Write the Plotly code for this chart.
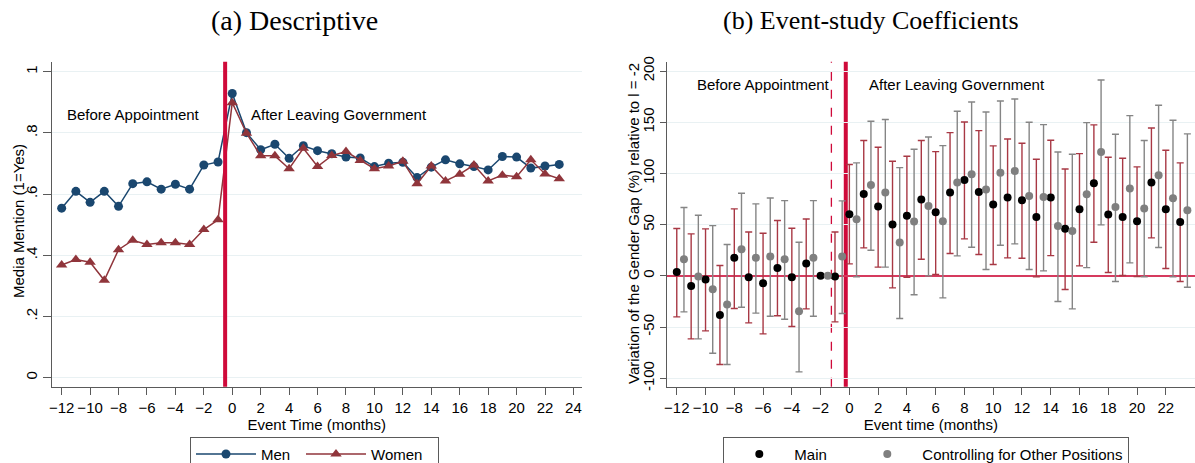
import plotly.graph_objects as go

# ---------------- data ----------------
event_time = [-12, -11, -10, -9, -8, -7, -6, -5, -4, -3, -2, -1,
              0, 1, 2, 3, 4, 5, 6, 7, 8, 9, 10, 11,
              12, 13, 14, 15, 16, 17, 18, 19, 20, 21, 22, 23]

men = [0.554, 0.609, 0.573, 0.609, 0.560, 0.634, 0.640, 0.616, 0.632, 0.616, 0.695, 0.705,
       0.929, 0.801, 0.745, 0.763, 0.717, 0.758, 0.742, 0.732, 0.721, 0.718, 0.690, 0.701,
       0.704, 0.654, 0.688, 0.712, 0.699, 0.690, 0.679, 0.723, 0.721, 0.685, 0.692, 0.697]

women = [0.368, 0.386, 0.377, 0.318, 0.418, 0.449, 0.435, 0.441, 0.441, 0.435, 0.484, 0.516,
         0.899, 0.799, 0.725, 0.725, 0.683, 0.750, 0.690, 0.726, 0.739, 0.710, 0.683, 0.692,
         0.707, 0.634, 0.692, 0.643, 0.665, 0.695, 0.643, 0.662, 0.657, 0.712, 0.666, 0.650]

main_coef = [3.9, -9.8, -3.6, -38.1, 17.6, -1.3, -7.2, 7.8, -1.3, 12.0, 0.0, -0.5,
             60.2, 80.0, 67.7, 50.1, 58.6, 74.5, 62.1, 81.3, 93.7, 82.0, 69.6, 76.4,
             73.8, 57.6, 76.4, 45.9, 65.1, 90.4, 59.9, 57.6, 53.4, 91.1, 65.1, 52.7]
main_hi = [46.2, 41.0, 45.9, 10.1, 65.4, 42.9, 41.6, 54.0, 46.5, 55.6, 0.0, 42.9,
           108.7, 132.1, 125.6, 111.9, 116.8, 132.1, 121.3, 139.9, 150.3, 141.8, 126.9, 133.7,
           129.5, 113.9, 132.4, 104.4, 119.4, 147.4, 115.8, 114.8, 106.4, 144.4, 122.6, 110.3]
main_lo = [-40.0, -61.5, -53.7, -86.5, -31.9, -45.9, -56.6, -39.0, -49.4, -32.2, 0.0, -44.9,
           11.7, 27.3, 8.5, -11.7, -1.3, 16.3, 1.3, 21.8, 36.1, 20.8, 11.1, 17.6,
           17.2, -1.0, 19.8, -13.3, 9.8, 32.9, 3.3, 0.3, -0.7, 37.1, 7.2, -5.5]

ctrl_coef = [16.3, -0.5, -13.0, -28.0, 26.0, 17.6, 18.9, 16.3, -34.5, 17.6, 0.0, 18.9,
             55.3, 88.8, 81.3, 32.5, 53.0, 68.3, 53.4, 91.1, 99.2, 84.3, 100.8, 102.5,
             78.1, 77.1, 48.8, 43.9, 79.7, 121.0, 67.3, 85.2, 65.7, 98.2, 75.8, 64.1]
ctrl_hi = [66.7, 59.2, 49.1, 30.6, 80.7, 70.3, 76.1, 73.5, 32.9, 73.5, 0.0, 73.2,
           110.3, 150.9, 152.6, 105.7, 123.6, 135.6, 127.2, 160.7, 169.8, 160.0, 170.8, 172.7,
           150.0, 147.7, 121.0, 118.7, 149.6, 191.3, 138.3, 156.5, 132.1, 166.6, 151.9, 138.6]
ctrl_lo = [-35.1, -61.5, -75.5, -86.5, -30.6, -36.4, -39.4, -42.3, -93.7, -39.4, 0.0, -36.8,
           -1.0, 25.0, 8.5, -41.6, -18.5, 0.0, -21.5, 19.5, 28.0, 6.2, 29.9, 31.2,
           6.2, 4.9, -25.0, -32.2, 8.1, 49.8, -5.5, 12.7, -1.0, 27.7, -1.0, -11.1]

left_xticks = [-12, -10, -8, -6, -4, -2, 0, 2, 4, 6, 8, 10, 12, 14, 16, 18, 20, 22, 24]
right_xticks = [-12, -10, -8, -6, -4, -2, 0, 2, 4, 6, 8, 10, 12, 14, 16, 18, 20, 22]
left_yticks = [0, 0.2, 0.4, 0.6, 0.8, 1]
left_yticklabels = ["0", ".2", ".4", ".6", ".8", "1"]
right_yticks = [-100, -50, 0, 50, 100, 150, 200]
right_yticklabels = ["-100", "-50", "0", "50", "100", "150", "200"]

# ---------------- styles ----------------
W, H = 1195, 463
NAVY = "#1a476f"
MAROON = "#90353b"
RED = "#cf0a3a"
CI_RED = "#a83844"
GRAY = "#7f7f7f"
CI_GRAY = "#858585"
AXIS = "#5a5a5a"
GRID = "#e9f1f3"
SANS = "Liberation Sans, Arial, sans-serif"
SERIF = "Liberation Serif, Times New Roman, serif"

ctrl_x = [t + 0.5 for t in event_time]


def px_x(p):
    return p / W


def px_y(p):
    return (H - p) / H


fig = go.Figure()

fig.add_trace(go.Scatter(
    x=event_time, y=men, mode="lines+markers", name="Men",
    line=dict(color=NAVY, width=1.5),
    marker=dict(symbol="circle", size=9, color=NAVY),
    xaxis="x", yaxis="y", legend="legend", legendwidth=35))
fig.add_trace(go.Scatter(
    x=event_time, y=women, mode="lines+markers", name="Women",
    line=dict(color=MAROON, width=1.5),
    marker=dict(symbol="triangle-up", size=10, color=MAROON),
    xaxis="x", yaxis="y", legend="legend", legendwidth=62))

fig.add_trace(go.Scatter(
    x=event_time, y=main_coef, mode="markers", name="Main",
    marker=dict(symbol="circle", size=8, color="black"),
    error_y=dict(type="data", symmetric=False,
                 array=[h - c for h, c in zip(main_hi, main_coef)],
                 arrayminus=[c - l for c, l in zip(main_coef, main_lo)],
                 color=CI_RED, thickness=1.4, width=3.5),
    xaxis="x2", yaxis="y2", legend="legend2", legendwidth=53))
fig.add_trace(go.Scatter(
    x=ctrl_x, y=ctrl_coef, mode="markers", name="Controlling for Other Positions",
    marker=dict(symbol="circle", size=8, color=GRAY),
    error_y=dict(type="data", symmetric=False,
                 array=[h - c for h, c in zip(ctrl_hi, ctrl_coef)],
                 arrayminus=[c - l for c, l in zip(ctrl_coef, ctrl_lo)],
                 color=CI_GRAY, thickness=1.4, width=3.5),
    xaxis="x2", yaxis="y2", legend="legend2"))

ydom = [px_y(386.7), px_y(61.7)]
axis_common = dict(showline=True, linecolor=AXIS, linewidth=1.3, ticks="outside",
                   tickcolor=AXIS, tickwidth=1.2, mirror=False, automargin=False,
                   tickfont=dict(family=SANS, size=15, color="black"))

fig.update_layout(
    width=W, height=H,
    margin=dict(l=0, r=0, t=0, b=0, pad=0, autoexpand=False),
    paper_bgcolor="white", plot_bgcolor="white",
    font=dict(family=SANS, size=14, color="black"),
    xaxis=dict(domain=[px_x(51.7), px_x(581.7)], range=[-12.7, 24.58],
               tickmode="array", tickvals=left_xticks, ticklen=7, showgrid=False,
               zeroline=False, ticklabelstandoff=0,
               title=dict(text="Event Time (months)", font=dict(size=15), standoff=0),
               anchor="y", **axis_common),
    yaxis=dict(domain=ydom, range=[-0.03, 1.033], tickmode="array",
               tickvals=left_yticks, ticktext=left_yticklabels, tickangle=-90,
               ticklen=8, showgrid=True, gridcolor=GRID, gridwidth=1.2, zeroline=False,
               anchor="x", **axis_common),
    xaxis2=dict(domain=[px_x(666.7), 1.0], range=[-12.7, 24.03],
                tickmode="array", tickvals=right_xticks, ticklen=7, showgrid=False,
                zeroline=False, ticklabelstandoff=0,
                title=dict(text="Event time (months)", font=dict(size=15), standoff=0),
                anchor="y2", **axis_common),
    yaxis2=dict(domain=ydom, range=[-108.2, 209.1], tickmode="array",
                tickvals=right_yticks, ticktext=right_yticklabels, tickangle=-90,
                ticklen=6, showgrid=True, gridcolor=GRID, gridwidth=1.2,
                zeroline=True, zerolinecolor="#d63a5e", zerolinewidth=1.6,
                anchor="x2", **axis_common),
    legend=dict(x=px_x(190), y=px_y(436.7), xanchor="left", yanchor="top",
                orientation="h", bordercolor=AXIS, borderwidth=1,
                font=dict(family=SANS, size=15), itemwidth=60,
                bgcolor="white"),
    legend2=dict(x=px_x(723.3), y=px_y(436.7), xanchor="left", yanchor="top",
                 orientation="h", bordercolor=AXIS, borderwidth=1,
                 font=dict(family=SANS, size=15), itemwidth=60,
                 bgcolor="white"),
    showlegend=True,
)

shapes = [
    dict(type="line", xref="x", yref="y domain", x0=-0.5, x1=-0.5, y0=0, y1=1,
         line=dict(color=RED, width=4), layer="above"),
    dict(type="line", xref="x2", yref="y2 domain", x0=-1.25, x1=-1.25, y0=0, y1=1,
         line=dict(color=RED, width=1.3, dash="dash"), layer="below"),
    dict(type="line", xref="x2", yref="y2 domain", x0=-0.25, x1=-0.25, y0=0, y1=1,
         line=dict(color=RED, width=4), layer="below"),
]
fig.update_layout(shapes=shapes)

annotations = [
    dict(text="(a) Descriptive", x=px_x(294), y=px_y(20), xref="paper", yref="paper",
         showarrow=False, font=dict(family=SERIF, size=28), xanchor="center", yanchor="middle"),
    dict(text="(b) Event-study Coefficients", x=px_x(871), y=px_y(20), xref="paper", yref="paper",
         showarrow=False, font=dict(family=SERIF, size=26), xanchor="center", yanchor="middle"),
    dict(text="Media Mention (1=Yes)", x=px_x(18), y=px_y(221), xref="paper", yref="paper",
         showarrow=False, textangle=-90, font=dict(size=15), xanchor="center", yanchor="middle"),
    dict(text="Variation of the Gender Gap (%) relative to l = -2", x=px_x(634), y=px_y(224),
         xref="paper", yref="paper", showarrow=False, textangle=-90, font=dict(size=15),
         xanchor="center", yanchor="middle"),
    dict(text="Before Appointment", x=-11.8, y=0.859, xref="x", yref="y",
         showarrow=False, font=dict(size=15), xanchor="left", yanchor="middle"),
    dict(text="After Leaving Government", x=1.15, y=0.859, xref="x", yref="y",
         showarrow=False, font=dict(size=15), xanchor="left", yanchor="middle"),
    dict(text="Before Appointment", x=-10.75, y=187.2, xref="x2", yref="y2",
         showarrow=False, font=dict(size=15), xanchor="left", yanchor="middle"),
    dict(text="After Leaving Government", x=1.25, y=187.2, xref="x2", yref="y2",
         showarrow=False, font=dict(size=15), xanchor="left", yanchor="middle"),
]
fig.update_layout(annotations=annotations)

fig.write_html("out.html", config={"displayModeBar": False},
               post_script="document.body.style.margin='0';")
